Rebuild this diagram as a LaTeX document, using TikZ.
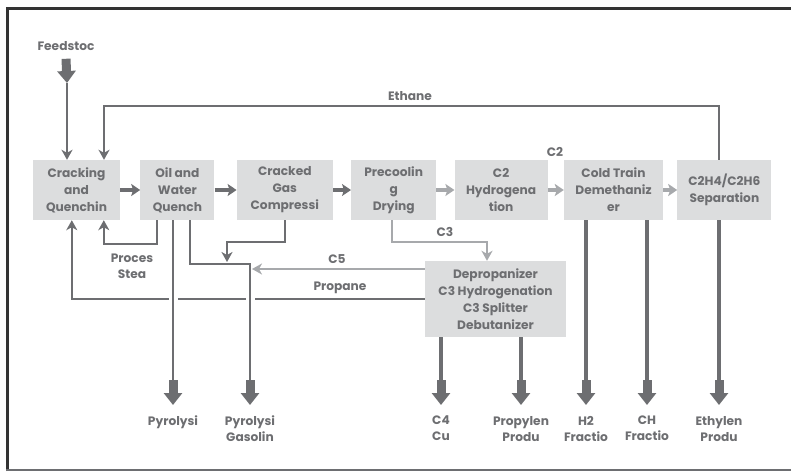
\documentclass[tikz,border=0pt]{standalone}
\usepackage{fontspec}
\setmainfont{Poppins}
\usetikzlibrary{arrows.meta,positioning}
\definecolor{linegray}{HTML}{6D6E71}
\definecolor{lightline}{HTML}{A7A9AC}
\definecolor{boxgray}{HTML}{DCDDDE}
\tikzstyle{unit}=[
	rectangle,
	fill=boxgray,
	text=linegray,
	font=\fontsize{12.2}{17}\selectfont\bfseries,
	align=center,
	minimum height=60pt,
	inner sep=1pt
]
\tikzstyle{tag}=[
	text=linegray,
	font=\fontsize{12.2}{16}\selectfont\bfseries,
	align=center,
	inner sep=1pt
]
\tikzstyle{stream}=[
	-{Stealth[length=10pt,width=11pt,inset=3pt]},
	draw=linegray,
	line width=2.5pt
]
\tikzstyle{shortflow}=[
	-{Stealth[length=9pt,width=12pt,inset=2pt]},
	draw=linegray,
	line width=3.5pt
]
\tikzstyle{bigflow}=[
	-{Triangle[width=18pt,length=12pt]},
	draw=linegray,
	line width=9pt
]
\tikzstyle{product}=[
	draw=linegray,
	line width=4pt
]
\tikzstyle{residue}=[
	draw=linegray,
	line width=2.5pt,
	preaction={draw=white,line width=9pt}
]

\begin{document}
\begin{tikzpicture}[x=1pt,y=-1pt]
\useasboundingbox (0,0) rectangle (791,471);
% frame
\draw[line width=2.5pt,black!80] (7.5,471) -- (7.5,8.5) -- (791,8.5);
\draw[line width=1.5pt,linegray] (6,470) -- (791,470);

% main train
\node [unit,minimum width=87pt] (crack) at (76.5,190) {Cracking\\and\\Quenchin};
\node [unit,minimum width=74pt,right=20pt of crack] (oil) {Oil and\\Water\\Quench};
\node [unit,minimum width=96pt,right=22pt of oil] (comp) {Cracked\\Gas\\Compressi};
\node [unit,minimum width=85pt,right=18pt of comp] (precool) {Precoolin\\g\\Drying};
\node [unit,minimum width=93pt,right=18pt of precool] (hydro) {C2\\Hydrogena\\tion};
\node [unit,minimum width=99pt,right=16pt of hydro] (demeth) {Cold Train\\Demethaniz\\er};
\node [unit,minimum width=94pt,right=14pt of demeth] (sep) {C2H4/C2H6\\Separation};
\node [unit,minimum width=141pt,minimum height=76pt] (deprop) at (495.5,299)
	{Depropanizer\\C3 Hydrogenation\\C3 Splitter\\Debutanizer};

% labels
\node [tag] (feed) at (66,46) {Feedstoc};
\node [tag] (ethane) at (410,96) {Ethane};
\node [tag] (ctwo) at (555,152) {C2};
\node [tag] (cthree) at (445,232) {C3};
\node [tag] (cfivelab) at (337,259) {C5};
\node [tag] (propane) at (340,288) {Propane};
\node [tag] (steam) at (132,266) {Proces\\Stea};

% products
\node [tag,anchor=north] (pyro) at (173,415) {Pyrolysi};
\node [tag,anchor=north] (pygas) at (250,415) {Pyrolysi\\Gasolin};
\node [tag,anchor=north] (cfour) at (441,415) {C4\\Cu};
\node [tag,anchor=north] (propyl) at (521,415) {Propylen\\Produ};
\node [tag,anchor=north] (htwo) at (586,415) {H2\\Fractio};
\node [tag,anchor=north] (chfour) at (647,415) {CH\\Fractio};
\node [tag,anchor=north] (ethyl) at (719,415) {Ethylen\\Produ};

\coordinate (feedin) at (67,83);
\coordinate (ethcorner) at (104,106);
\coordinate (mix) at (227,262);
\coordinate (cfive) at (252,269);

% feed and recycle
\draw[bigflow] ([yshift=-7pt]feed.south) -- (feedin);
\draw[stream] (feedin) -- (feedin |- crack.north);
\draw[stream] (sep.north -| ethyl) |- (ethcorner) -- (ethcorner |- crack.north);
\draw[stream] (deprop.west) -| ([xshift=39pt]crack.south west);
\draw[stream] ([xshift=17pt]oil.south west) -- ++(0,24) -| ([xshift=71pt]crack.south west);

% main flow
\draw[shortflow] (crack) -- (oil);
\draw[shortflow] (oil) -- (comp);
\draw[shortflow] (comp) -- (precool);
\draw[shortflow,draw=lightline] (precool) -- (hydro);
\draw[shortflow,draw=lightline] (hydro) -- (demeth);
\draw[shortflow,draw=lightline] (demeth) -- (sep);

% oil quench outlets
\draw[residue] (pyro |- oil.south) -- ([yshift=35pt]pyro.north);
\draw[residue] ([xshift=50pt]oil.south west) -- ++(0,44) -| ([yshift=35pt]pygas.north);
\draw[stream] (comp.south) -- ++(0,22) -| (mix);
\draw[stream,draw=lightline] (deprop.west |- cfive) -- (cfive);
\draw[stream,draw=lightline] ([xshift=41pt]precool.south west) -- ++(0,22) -| ([xshift=-8.5pt]deprop.north);

% products
\draw[product] (cfour |- deprop.south) -- ([yshift=35pt]cfour.north);
\draw[product] (propyl |- deprop.south) -- ([yshift=35pt]propyl.north);
\draw[product] (htwo |- demeth.south) -- ([yshift=35pt]htwo.north);
\draw[product] (chfour |- demeth.south) -- ([yshift=35pt]chfour.north);
\draw[product] (ethyl |- sep.south) -- ([yshift=35pt]ethyl.north);
\foreach \out in {pyro,pygas,cfour,propyl,htwo,chfour,ethyl}
	\draw[bigflow] ([yshift=35pt]\out.north) -- ([yshift=10pt]\out.north);
\end{tikzpicture}
\end{document}
